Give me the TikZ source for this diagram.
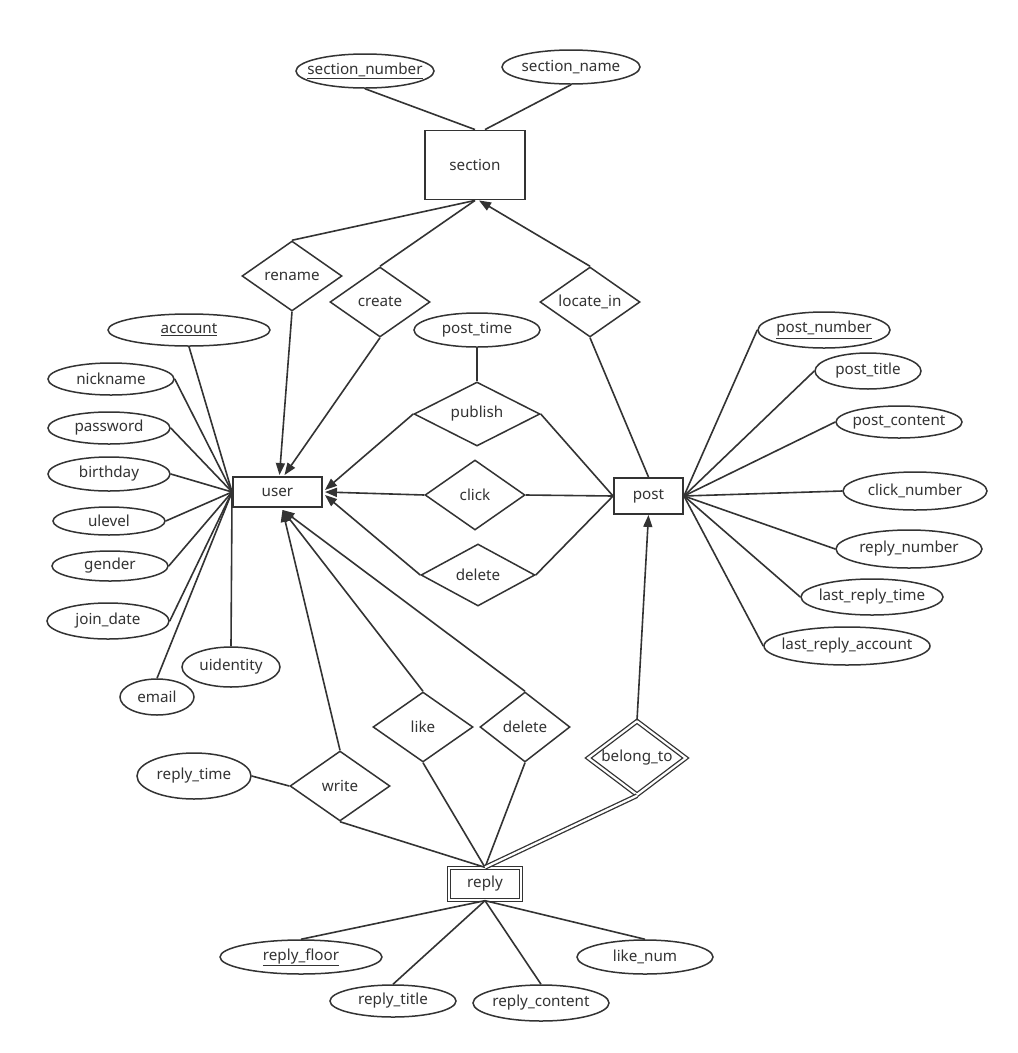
\documentclass[tikz,border=0pt]{standalone}
\usepackage{fontspec}
\setmainfont{Noto Sans}
\usetikzlibrary{shapes.geometric,arrows.meta,calc}
\definecolor{ink}{HTML}{333333}
\newcommand{\mk}[1]{\makebox[0pt][c]{#1}}
\begin{document}
\begin{tikzpicture}[x=1pt,y=-1pt,
  base/.style={draw=ink, text=ink, font=\fontsize{15.2}{18}\selectfont, inner sep=0pt},
  ent/.style={base, rectangle, line width=1.9pt},
  attr/.style={base, ellipse, line width=1.5pt},
  rel/.style={base, diamond, line width=1.5pt},
  conn/.style={draw=ink, line width=1.6pt},
  arr/.style={conn, -{Triangle[length=12pt,width=9pt]}},
  dbl/.style={draw=ink, double=white, double distance=2.2pt, line width=1.3pt}]
\useasboundingbox[fill=white] (0,0) rectangle (1018,1053);

% section
\node[ent, minimum width=100pt, minimum height=69pt] (section) at (475,165) {\mk{section}};
\node[attr, minimum width=138pt, minimum height=34pt] (secnum) at (365,71) {\mk{\underline{section\_number}}};
\node[attr, minimum width=138pt, minimum height=34pt] (secname) at (571,67) {\mk{section\_name}};

% relationships top
\node[rel, minimum width=100pt, minimum height=70pt] (rename) at (292,276) {\mk{rename}};
\node[rel, minimum width=100pt, minimum height=70pt] (create) at (380,302) {\mk{create}};
\node[rel, minimum width=100pt, minimum height=70pt] (locate) at (590,302) {\mk{locate\_in}};

% entities
\node[ent, minimum width=89pt, minimum height=30pt] (user) at (277.5,492) {\mk{user}};
\node[ent, minimum width=69pt, minimum height=36pt] (post) at (648.5,496) {\mk{post}};

% middle relationships
\node[attr, minimum width=126pt, minimum height=34pt] (posttime) at (477,330) {\mk{post\_time}};
\node[rel, minimum width=126pt, minimum height=64pt] (publish) at (477,414) {\mk{publish}};
\node[rel, minimum width=100pt, minimum height=70pt] (click) at (475,495) {\mk{click}};
\node[rel, minimum width=114pt, minimum height=62pt] (delA) at (478,575) {\mk{delete}};

% user attributes
\node[attr, minimum width=162pt, minimum height=32pt] (account) at (189,330) {\mk{\underline{account}}};
\node[attr, minimum width=126pt, minimum height=32pt] (nickname) at (111,379) {\mk{nickname}};
\node[attr, minimum width=122pt, minimum height=32pt] (password) at (109,428) {\mk{password}};
\node[attr, minimum width=122pt, minimum height=34pt] (birthday) at (109,474) {\mk{birthday}};
\node[attr, minimum width=112pt, minimum height=28pt] (ulevel) at (109,521) {\mk{ulevel}};
\node[attr, minimum width=116pt, minimum height=30pt] (gender) at (110,566) {\mk{gender}};
\node[attr, minimum width=122pt, minimum height=36pt] (joindate) at (108,621) {\mk{join\_date}};
\node[attr, minimum width=98pt, minimum height=40pt] (uidentity) at (231,667) {\mk{uidentity}};
\node[attr, minimum width=74pt, minimum height=36pt] (email) at (157,697) {\mk{email}};

% post attributes
\node[attr, minimum width=132pt, minimum height=36pt] (postnumber) at (824,330) {\mk{\underline{post\_number}}};
\node[attr, minimum width=106pt, minimum height=36pt] (posttitle) at (868,371) {\mk{post\_title}};
\node[attr, minimum width=126pt, minimum height=32pt] (postcontent) at (899,422) {\mk{post\_content}};
\node[attr, minimum width=144pt, minimum height=38pt] (clicknumber) at (915,491) {\mk{click\_number}};
\node[attr, minimum width=146pt, minimum height=38pt] (replynumber) at (909,549) {\mk{reply\_number}};
\node[attr, minimum width=142pt, minimum height=36pt] (lastreplytime) at (872,597) {\mk{last\_reply\_time}};
\node[attr, minimum width=166pt, minimum height=38pt] (lastreplyaccount) at (847,646) {\mk{last\_reply\_account}};

% bottom relationships
\node[rel, minimum width=100pt, minimum height=70pt] (like) at (423,727) {\mk{like}};
\node[rel, minimum width=90pt, minimum height=70pt] (delB) at (525,727) {\mk{delete}};
\node[rel, minimum width=100pt, minimum height=70pt] (write) at (340,786) {\mk{write}};
\node[attr, minimum width=114pt, minimum height=46pt] (replytime) at (194,776) {\mk{reply\_time}};
\node[rel, dbl, minimum width=98pt, minimum height=74pt] (belong) at (637,758) {\mk{belong\_to}};

% reply
\node[ent, dbl, minimum width=72pt, minimum height=32pt] (reply) at (485,884) {\mk{reply}};
\node[attr, minimum width=162pt, minimum height=34pt] (replyfloor) at (301,957) {\mk{\underline{reply\_floor}}};
\node[attr, minimum width=126pt, minimum height=32pt] (replytitle) at (393,1001) {\mk{reply\_title}};
\node[attr, minimum width=136pt, minimum height=36pt] (replycontent) at (541,1003) {\mk{reply\_content}};
\node[attr, minimum width=136pt, minimum height=34pt] (likenum) at (645,957) {\mk{like\_num}};

% section connections
\draw[conn] (secnum.south) -- (section.north);
\draw[conn] (secname.south) -- ($(section.north)+(10,0)$);
\draw[conn] (rename.north) -- (section.south);
\draw[conn] (create.north) -- (section.south);
\draw[arr] (locate.north) -- ($(section.south)+(4,0)$);

% into user
\draw[arr] (rename.south) -- ($(user.north)+(2,-1)$);
\draw[arr] (create.south) -- ($(user.north)+(7,-1)$);
\draw[arr] (publish.west) -- ($(user.east)+(2,-2)$);
\draw[arr] (click.west) -- ($(user.east)+(2,0)$);
\draw[arr] (delA.west) -- ($(user.east)+(2,3)$);
\draw[arr] (write.north) -- ($(user.south)+(5,2)$);
\draw[arr] (like.north) -- ($(user.south)+(5,2)$);
\draw[arr] (delB.north) -- ($(user.south)+(5,2)$);

% post side
\draw[conn] (posttime.south) -- (publish.north);
\draw[conn] (publish.east) -- (post.west);
\draw[conn] (click.east) -- (post.west);
\draw[conn] (delA.east) -- (post.west);
\draw[conn] (locate.south) -- (post.north);
\draw[arr] (belong.north) -- (post.south);

% user attributes
\draw[conn] (account.south) -- (user.west);
\foreach \a in {nickname,password,birthday,ulevel,gender,joindate}
  \draw[conn] (\a.east) -- (user.west);
\draw[conn] (uidentity.north) -- (user.west);
\draw[conn] (email.north) -- (user.west);

% post attributes
\foreach \a in {postnumber,posttitle,postcontent,clicknumber,replynumber,lastreplytime,lastreplyaccount}
  \draw[conn] (\a.west) -- (post.east);

% reply connections
\draw[conn] (replytime.east) -- (write.west);
\draw[conn] (write.south) -- (reply.north);
\draw[conn] (like.south) -- (reply.north);
\draw[conn] (delB.south) -- (reply.north);
\draw[dbl] (belong.south) -- (reply.north);
\foreach \a in {replyfloor,replytitle,replycontent,likenum}
  \draw[conn] (\a.north) -- (reply.south);
\end{tikzpicture}
\end{document}
